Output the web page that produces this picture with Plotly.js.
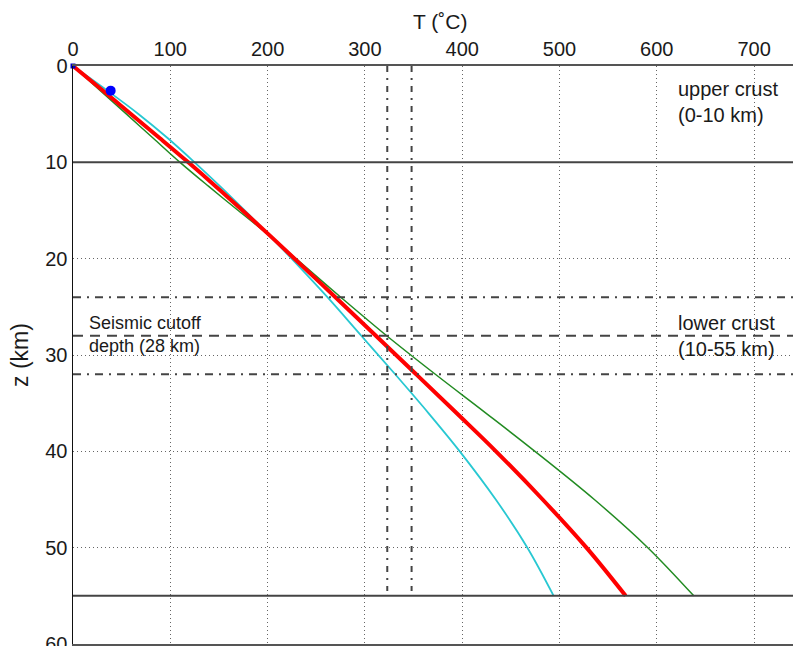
<!DOCTYPE html>
<html>
<head>
<meta charset="utf-8">
<script src="https://cdn.plot.ly/plotly-3.0.1.min.js"></script>
<style>html,body{margin:0;padding:0;background:#fff;}#chart{width:793px;height:646px;}</style>
</head>
<body>
<div id="chart"></div>
<script>
// Depths (km) at which the temperature profiles were read
const depths = [0, 2.5, 5, 7.5, 10, 12.5, 15, 17.4, 20, 24, 28, 32, 36, 40, 45, 50, 55];
// Temperature profiles (°C)
const tempRed   = [0, 30, 59.8, 89.3, 118.5, 146.8, 174.3, 200.2, 227.7, 269.7, 311.3, 352.7, 393.9, 434.7, 482.7, 527.7, 568];
const tempCyan  = [0, 34.5, 67.5, 97.5, 125, 151.3, 176.5, 200, 224.7, 261.5, 296.3, 331.1, 365.1, 397.5, 434.5, 467, 494];
const tempGreen = [0, 27.5, 55, 82.5, 110, 139.5, 169.8, 199.3, 229.2, 275.2, 322.4, 372.4, 424, 474.8, 535.8, 590.8, 638];
// Observed points
const obsT = [38.7];
const obsZ = [2.56];
const originT = [0];
const originZ = [0];
// Reference lines
const layerBoundaries = [10, 55];        // solid
const cutoffDepth = [28];                // dashed
const cutoffRange = [24, 32];            // dash-dot horizontal
const tempLimits = [323, 348];           // dash-dot vertical
const tempLimitDepth = [0, 54.5];
// Axis ticks
const xTicks = [0, 100, 200, 300, 400, 500, 600, 700];
const yTicks = [0, 10, 20, 30, 40, 50, 60];

const FONT = 'Liberation Sans, Arial, Helvetica, sans-serif';
const GRAY = '#444444';
const TXT = '#1a1a1a';

const smooth = {shape: 'spline', smoothing: 1};
const traces = [
  {x: tempCyan, y: depths, mode: 'lines', line: Object.assign({color: 'rgb(40,200,210)', width: 1.8}, smooth), hoverinfo: 'skip'},
  {x: tempGreen, y: depths, mode: 'lines', line: Object.assign({color: 'rgb(34,139,34)', width: 1.5}, smooth), hoverinfo: 'skip'},
  {x: tempRed, y: depths, mode: 'lines', line: Object.assign({color: 'rgb(255,0,0)', width: 4}, smooth), hoverinfo: 'skip'},
  {x: obsT, y: obsZ, mode: 'markers', marker: {color: 'rgb(0,0,255)', size: 10}, hoverinfo: 'skip'},
  {x: originT, y: originZ, mode: 'markers', marker: {color: 'rgb(0,0,200)', size: 5, symbol: 'square'}, hoverinfo: 'skip', cliponaxis: false}
];

const shapes = [];
layerBoundaries.forEach(z => shapes.push({type: 'line', xref: 'paper', yref: 'y', x0: 0, x1: 1, y0: z, y1: z, line: {color: GRAY, width: 2}}));
cutoffDepth.forEach(z => shapes.push({type: 'line', xref: 'paper', yref: 'y', x0: 0, x1: 1, y0: z, y1: z, line: {color: GRAY, width: 2, dash: '10px,7px'}}));
cutoffRange.forEach(z => shapes.push({type: 'line', xref: 'paper', yref: 'y', x0: 0, x1: 1, y0: z, y1: z, line: {color: GRAY, width: 2, dash: '8px,6px,2px,6px'}}));
tempLimits.forEach(t => shapes.push({type: 'line', xref: 'x', yref: 'y', x0: t, x1: t, y0: tempLimitDepth[0], y1: tempLimitDepth[1], line: {color: GRAY, width: 2, dash: '6px,6px,2px,6px'}}));

const layout = {
  width: 793, height: 646,
  margin: {l: 73, r: 0, t: 66, b: 2},
  paper_bgcolor: '#fff', plot_bgcolor: '#fff',
  showlegend: false,
  font: {family: FONT, size: 20, color: TXT},
  xaxis: {
    side: 'top', range: [0, 740], tickvals: xTicks, ticks: '',
    showgrid: true, gridcolor: '#666', griddash: '1px,3px', gridwidth: 1,
    zeroline: false, showline: true, linecolor: '#555', linewidth: 2, mirror: true,
    tickfont: {family: FONT, size: 20, color: TXT}, ticklabeloverflow: 'allow'
  },
  yaxis: {
    range: [60, 0], tickvals: yTicks, ticks: '',
    showgrid: true, gridcolor: '#666', griddash: '1px,3px', gridwidth: 1,
    zeroline: false, showline: true, linecolor: '#111', linewidth: 1.5,
    tickfont: {family: FONT, size: 20, color: TXT}, ticklabeloverflow: 'allow',
    title: {text: 'z (km)', font: {family: FONT, size: 23, color: TXT}, standoff: 10}
  },
  shapes: shapes,
  annotations: [
    {x: 0.51, y: 1 + (66 - 21) / 578, xref: 'paper', yref: 'paper', xanchor: 'center', yanchor: 'middle', showarrow: false,
     text: 'T (˚C)', font: {family: FONT, size: 21, color: TXT}},
    {x: 620, y: 3.7, xref: 'x', yref: 'y', xanchor: 'left', yanchor: 'middle', align: 'left', showarrow: false,
     text: 'upper crust<br>(0-10 km)', font: {family: FONT, size: 20, color: TXT}},
    {x: 620, y: 28.0, xref: 'x', yref: 'y', xanchor: 'left', yanchor: 'middle', align: 'left', showarrow: false,
     text: 'lower crust<br>(10-55 km)', font: {family: FONT, size: 20, color: TXT}},
    {x: 14, y: 27.9, xref: 'x', yref: 'y', xanchor: 'left', yanchor: 'middle', align: 'left', showarrow: false,
     text: 'Seismic cutoff<br>depth (28 km)', font: {family: FONT, size: 18, color: TXT}}
  ]
};

Plotly.newPlot('chart', traces, layout, {staticPlot: true, displayModeBar: false});
</script>
</body>
</html>
